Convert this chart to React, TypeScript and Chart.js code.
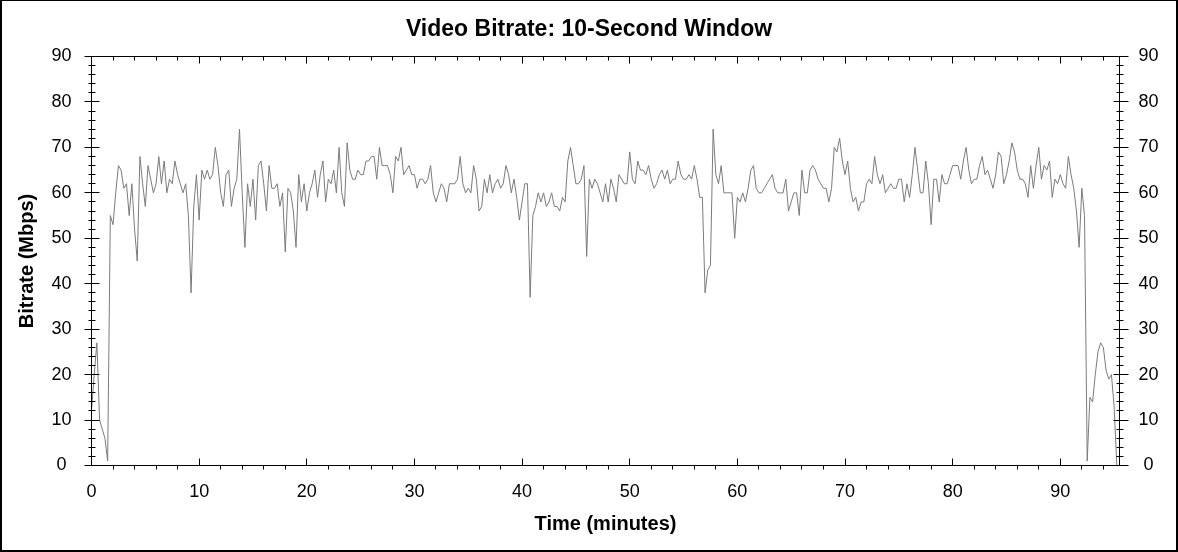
import { useEffect, useRef } from "react";
import { Chart, registerables } from "chart.js";

Chart.register(...registerables);

const TITLE = "Video Bitrate: 10-Second Window";
const X_TITLE = "Time (minutes)";
const Y_TITLE = "Bitrate (Mbps)";

// one reading every quarter minute, starting at 0 min
const SAMPLE_INTERVAL_MIN = 0.25;
const X_MIN = 0;
const X_MAX = 95.5;
const Y_MIN = 0;
const Y_MAX = 90;
const X_TICKS = [0, 10, 20, 30, 40, 50, 60, 70, 80, 90];
const Y_TICKS = [0, 10, 20, 30, 40, 50, 60, 70, 80, 90];
const MINOR_STEP = 2;

// Mbps, 10-second window
const BITRATE = [
  12, 20, 27, 10, 8, 6, 1, 55, 53, 60, 66, 65, 61, 62, 55, 62, 52, 45, 68, 62,
  57, 66, 63, 60, 62, 68, 62, 67, 60, 63, 62, 67, 64, 62, 60, 62, 55, 38, 57, 64,
  54, 65, 63, 65, 63, 64, 70, 66, 60, 57, 64, 65, 57, 61, 63, 74, 60, 48, 62, 57,
  63, 54, 66, 67, 62, 56, 66, 61, 61, 62, 57, 60, 47, 61, 60, 56, 48, 64, 58, 62,
  56, 60, 62, 65, 59, 64, 67, 58, 63, 62, 65, 60, 70, 60, 57, 71, 65, 63, 63, 65,
  64, 64, 67, 67, 68, 68, 63, 70, 66, 66, 66, 64, 60, 68, 67, 70, 64, 65, 66, 64,
  64, 61, 63, 63, 62, 63, 66, 60, 58, 60, 62, 61, 58, 62, 62, 62, 63, 68, 62, 60,
  61, 60, 66, 63, 56, 57, 63, 60, 64, 60, 62, 63, 61, 62, 66, 64, 60, 63, 59, 54,
  58, 62, 62, 37, 55, 57, 60, 58, 60, 57, 58, 60, 57, 57, 56, 59, 58, 67, 70, 66,
  62, 62, 63, 66, 46, 63, 61, 63, 62, 60, 58, 62, 58, 63, 61, 58, 64, 63, 62, 62,
  69, 63, 62, 67, 65, 65, 64, 66, 63, 61, 62, 64, 65, 63, 65, 62, 63, 63, 67, 64,
  63, 63, 64, 63, 66, 63, 59, 59, 38, 43, 44, 74, 64, 62, 66, 60, 60, 60, 60, 50,
  59, 58, 60, 58, 61, 65, 66, 61, 60, 60, 61, 62, 63, 64, 61, 60, 60, 60, 63, 56,
  58, 60, 60, 55, 65, 60, 60, 65, 66, 65, 63, 62, 61, 61, 58, 61, 70, 69, 72, 67,
  64, 67, 61, 58, 59, 56, 58, 58, 62, 63, 62, 68, 64, 62, 64, 60, 61, 62, 61, 61,
  63, 63, 58, 62, 59, 64, 70, 65, 60, 60, 67, 62, 53, 63, 63, 58, 64, 62, 62, 64,
  66, 66, 66, 63, 67, 70, 65, 62, 63, 63, 66, 68, 64, 65, 63, 61, 64, 69, 68, 62,
  64, 67, 71, 69, 65, 63, 63, 62, 59, 66, 61, 66, 70, 63, 66, 65, 67, 59, 63, 62,
  64, 62, 61, 68, 64, 61, 56, 48, 61, 55, 1, 15, 14, 20, 25, 27, 26, 21, 19, 20,
  13, 0,
];

const FONT = '"Liberation Sans", Arial, Helvetica, sans-serif';
const W = 1178;
const H = 552;

export default function App() {
  const ref = useRef<HTMLCanvasElement | null>(null);

  useEffect(() => {
    const canvas = ref.current;
    if (!canvas) return;
    const points = BITRATE.map((v, i) => ({ x: i * SAMPLE_INTERVAL_MIN, y: v }));

    const framePlugin = {
      id: "framePlugin",
      afterDraw(chart: any) {
        const ctx = chart.ctx as CanvasRenderingContext2D;
        const { left, right, top, bottom } = chart.chartArea;
        const xs = chart.scales.x;
        const ys = chart.scales.y;
        const L = Math.floor(left) + 0.5;
        const R = Math.floor(right) + 0.5;
        const T = Math.floor(top) + 0.5;
        const B = Math.floor(bottom) + 0.5;
        ctx.save();
        ctx.strokeStyle = "#000";
        ctx.lineWidth = 1;
        const seg = (x1: number, y1: number, x2: number, y2: number) => {
          ctx.beginPath();
          ctx.moveTo(x1, y1);
          ctx.lineTo(x2, y2);
          ctx.stroke();
        };
        // plot frame
        seg(L, T, R, T);
        seg(L, B, R, B);
        seg(L, T, L, B);
        seg(R, T, R, B);
        // y ticks on both sides
        for (let v = Y_MIN; v <= Y_MAX; v += MINOR_STEP) {
          const py = Math.floor(ys.getPixelForValue(v)) + 0.5;
          if (Y_TICKS.includes(v)) {
            seg(L - 7, py, L + 8, py);
            seg(R - 6, py, R + 9, py);
          } else {
            seg(L - 3, py, L + 4, py);
            seg(R - 3, py, R + 4, py);
          }
        }
        // x ticks on top and bottom
        for (let v = X_MIN; v <= X_MAX; v += MINOR_STEP) {
          const px = Math.floor(xs.getPixelForValue(v)) + 0.5;
          if (X_TICKS.includes(v)) {
            seg(px, T, px, T + 7);
            seg(px, B, px, B - 7);
          } else {
            seg(px, T, px, T + 4);
            seg(px, B, px, B + 4);
          }
        }
        // outer border
        ctx.fillStyle = "#000";
        ctx.fillRect(0, 0, W, 1);
        ctx.fillRect(0, 0, 2, H);
        ctx.fillRect(W - 2, 0, 2, H);
        ctx.fillRect(0, H - 2, W, 2);
        ctx.restore();
      },
    };

    const tickFont = { family: FONT, size: 18 };
    const titleFont = { family: FONT, size: 20, weight: "bold" as const };

    const chart = new Chart(canvas, {
      type: "line",
      data: {
        datasets: [
          {
            data: points,
            borderColor: "#7b7b7b",
            borderWidth: 1,
            pointRadius: 0,
            tension: 0,
            fill: false,
            yAxisID: "y",
          },
        ],
      },
      options: {
        animation: false,
        responsive: false,
        maintainAspectRatio: false,
        events: [],
        layout: { padding: 0 },
        plugins: {
          legend: { display: false },
          tooltip: { enabled: false },
          title: {
            display: true,
            text: TITLE,
            color: "#000",
            font: { family: FONT, size: 23, weight: "bold", lineHeight: 1.2 },
            padding: { top: 16, bottom: 12.9 },
          },
        },
        scales: {
          x: {
            type: "linear",
            min: X_MIN,
            max: X_MAX,
            afterBuildTicks: (s: any) => {
              s.ticks = X_TICKS.map((value) => ({ value }));
            },
            afterFit: (s: any) => {
              s.height = 86.5;
            },
            grid: { display: false, drawTicks: false },
            border: { display: false },
            ticks: {
              color: "#000",
              font: tickFont,
              padding: 16,
              maxRotation: 0,
              autoSkip: false,
            },
            title: {
              display: true,
              text: X_TITLE,
              color: "#000",
              font: titleFont,
              padding: { top: 0, bottom: 16 },
            },
          },
          y: {
            type: "linear",
            position: "left",
            min: Y_MIN,
            max: Y_MAX,
            afterBuildTicks: (s: any) => {
              s.ticks = Y_TICKS.map((value) => ({ value }));
            },
            afterFit: (s: any) => {
              s.width = 91.5;
            },
            grid: { display: false, drawTicks: false },
            border: { display: false },
            ticks: {
              color: "#000",
              font: tickFont,
              padding: 20,
              crossAlign: "center",
            },
            title: {
              display: true,
              text: Y_TITLE,
              color: "#000",
              font: titleFont,
              padding: { top: 15, bottom: 0 },
            },
          },
          y2: {
            type: "linear",
            position: "right",
            min: Y_MIN,
            max: Y_MAX,
            afterBuildTicks: (s: any) => {
              s.ticks = Y_TICKS.map((value) => ({ value }));
            },
            afterFit: (s: any) => {
              s.width = 58.5;
            },
            grid: { display: false, drawTicks: false },
            border: { display: false },
            ticks: {
              color: "#000",
              font: tickFont,
              padding: 19,
              crossAlign: "center",
            },
          },
        },
      },
      plugins: [framePlugin],
    } as any);

    return () => chart.destroy();
  }, []);

  return (
    <div
      style={{
        position: "absolute",
        left: 0,
        top: 0,
        width: W,
        height: H,
        background: "#fff",
      }}
    >
      <canvas
        ref={ref}
        width={W}
        height={H}
        style={{ display: "block", width: W, height: H }}
      />
    </div>
  );
}
